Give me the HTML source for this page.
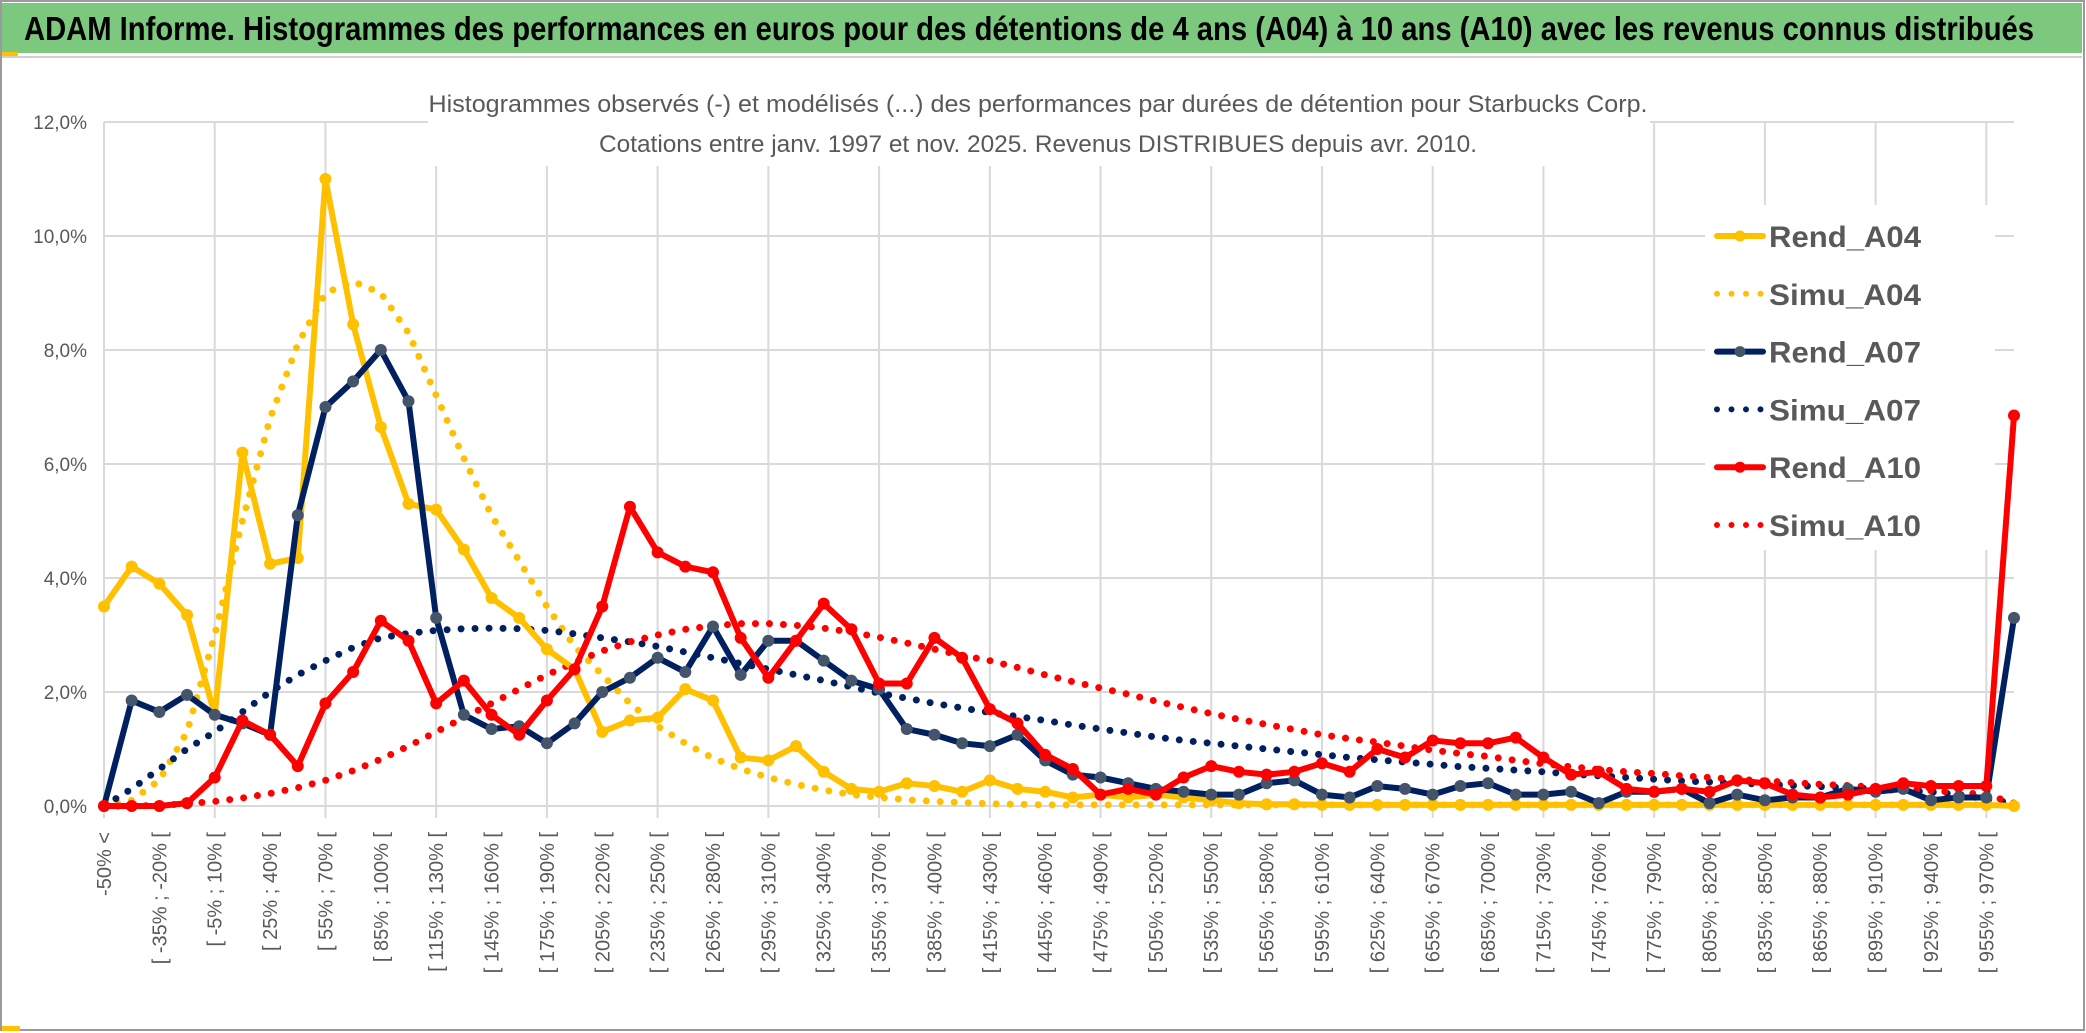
<!DOCTYPE html>
<html><head><meta charset="utf-8">
<style>
html,body{margin:0;padding:0;background:#fff;}
svg{display:block;font-family:"Liberation Sans",sans-serif;}
</style></head>
<body>
<svg id="chart" width="2086" height="1033" viewBox="0 0 2086 1033" xmlns="http://www.w3.org/2000/svg">
  <rect x="0" y="0" width="2086" height="1033" fill="#fff"/>
  <rect x="1" y="1" width="2083" height="1029" fill="none" stroke="#9a9a9a" stroke-width="2"/>
  <rect x="2" y="3" width="2080" height="50" fill="#7dc87f"/>
  <line x1="2" y1="57" x2="2082" y2="57" stroke="#d0d0d0" stroke-width="2"/>
  <rect x="2" y="52" width="16" height="4" fill="#ffc000"/>
  <rect x="2" y="1026" width="18" height="5" fill="#ffc000"/>
  <text x="24" y="40" font-size="33" font-weight="bold" fill="#000" textLength="2010" lengthAdjust="spacingAndGlyphs">ADAM Informe. Histogrammes des performances en euros pour des détentions de 4 ans (A04) à 10 ans (A10) avec les revenus connus distribués</text>
  <g id="grid"></g>
  <rect x="428" y="80" width="1222" height="86" fill="#fff"/>
  <text x="1038" y="112" font-size="24" fill="#595959" text-anchor="middle" textLength="1219" lengthAdjust="spacingAndGlyphs">Histogrammes observés (-) et modélisés (...) des performances par durées de détention pour Starbucks Corp.</text>
  <text x="1038" y="152" font-size="24" fill="#595959" text-anchor="middle" textLength="878" lengthAdjust="spacingAndGlyphs">Cotations entre janv. 1997 et nov. 2025. Revenus DISTRIBUES depuis avr. 2010.</text>
  <g id="yaxis"></g>
  <g id="xaxis"></g>
  <g id="series"></g>
  <g id="legend"></g>
</svg>
<script>
const yTicks = [0,2,4,6,8,10,12];
const yTickLabels = ["0,0%","2,0%","4,0%","6,0%","8,0%","10,0%","12,0%"];
const categories = (function(){ const c=["-50% <"]; for(let k=0;k<69;k++){c.push("[ "+(-50+15*k)+"% ; "+(-35+15*k)+"% [");} return c; })();
const rendA04 = [3.5,4.2,3.9,3.35,1.6,6.2,4.25,4.35,11.0,8.45,6.65,5.3,5.2,4.5,3.65,3.3,2.75,2.4,1.3,1.5,1.55,2.05,1.85,0.85,0.8,1.05,0.6,0.3,0.25,0.4,0.35,0.25,0.45,0.3,0.25,0.15,0.2,0.15,0.2,0.15,0.1,0.05,0.03,0.03,0.02,0.02,0.02,0.02,0.02,0.02,0.02,0.02,0.02,0.02,0.02,0.02,0.02,0.02,0.02,0.02,0.02,0.02,0.02,0.02,0.02,0.02,0.02,0.02,0.02,0.0];
const simuA04 = [0,0.1,0.45,1.3,3.0,5.0,6.8,8.1,9.0,9.2,9.0,8.3,7.2,6.1,5.1,4.3,3.5,2.8,2.3,1.8,1.4,1.1,0.84,0.65,0.5,0.38,0.28,0.2,0.15,0.11,0.08,0.06,0.04,0.03,0.02,0.02,0.02,0.02,0.02,0.02,0.02,0.02,0.02,0.02,0.02,0.02,0.02,0.02,0.02,0.02,0.02,0.02,0.02,0.02,0.02,0.02,0.02,0.02,0.02,0.02,0.02,0.02,0.02,0.02,0.02,0.02,0.02,0.02,0.02,0.02];
const rendA07 = [0,1.85,1.65,1.95,1.6,1.45,1.25,5.1,7.0,7.45,8.0,7.1,3.3,1.6,1.35,1.4,1.1,1.45,2.0,2.25,2.6,2.35,3.15,2.3,2.9,2.9,2.55,2.2,2.05,1.35,1.25,1.1,1.05,1.25,0.8,0.55,0.5,0.4,0.3,0.25,0.2,0.2,0.4,0.45,0.2,0.15,0.35,0.3,0.2,0.35,0.4,0.2,0.2,0.25,0.05,0.25,0.25,0.3,0.05,0.2,0.1,0.15,0.15,0.3,0.25,0.3,0.1,0.15,0.15,3.3];
const simuA07 = [0,0.3,0.65,1.0,1.3,1.65,2.0,2.3,2.55,2.78,2.95,3.03,3.08,3.11,3.12,3.11,3.08,3.02,2.95,2.88,2.8,2.7,2.6,2.5,2.4,2.3,2.2,2.09,1.98,1.89,1.8,1.72,1.64,1.57,1.5,1.42,1.35,1.28,1.21,1.15,1.1,1.05,1.0,0.95,0.9,0.85,0.81,0.77,0.73,0.69,0.66,0.63,0.6,0.56,0.53,0.5,0.47,0.44,0.42,0.4,0.38,0.36,0.34,0.32,0.3,0.27,0.25,0.2,0.12,0.05];
const rendA10 = [0,0,0,0.05,0.5,1.5,1.25,0.7,1.8,2.35,3.25,2.9,1.8,2.2,1.6,1.25,1.85,2.4,3.5,5.25,4.45,4.2,4.1,2.95,2.25,2.9,3.55,3.1,2.15,2.15,2.95,2.6,1.7,1.45,0.9,0.65,0.2,0.3,0.2,0.5,0.7,0.6,0.55,0.6,0.75,0.6,1.0,0.85,1.15,1.1,1.1,1.2,0.85,0.55,0.6,0.3,0.25,0.3,0.25,0.45,0.4,0.2,0.15,0.2,0.3,0.4,0.35,0.35,0.35,6.85];
const simuA10 = [0,0,0.01,0.04,0.08,0.14,0.22,0.32,0.45,0.62,0.82,1.05,1.3,1.55,1.8,2.05,2.3,2.52,2.72,2.88,3.0,3.1,3.16,3.2,3.2,3.17,3.12,3.05,2.96,2.86,2.75,2.64,2.55,2.43,2.3,2.18,2.07,1.96,1.84,1.73,1.62,1.52,1.43,1.34,1.25,1.18,1.12,1.05,0.98,0.92,0.87,0.8,0.74,0.69,0.64,0.6,0.57,0.53,0.5,0.47,0.44,0.41,0.38,0.36,0.33,0.3,0.27,0.24,0.2,0.05];

const NS="http://www.w3.org/2000/svg";
const X0=104, X1=2014, Y0=806, PX_PER_PCT=57;
function xPos(i){ return X0 + i*(X1-X0)/(categories.length-1); }
function yPos(v){ return Y0 - v*PX_PER_PCT; }
function mk(tag, attrs, parent){ const e=document.createElementNS(NS,tag); for(const k in attrs) e.setAttribute(k, attrs[k]); parent.appendChild(e); return e; }

const grid=document.getElementById('grid');
yTicks.forEach(function(t){
  const l=mk('line',{x1:X0,x2:X1,y1:yPos(t),y2:yPos(t),stroke:'#d9d9d9','stroke-width':2},grid);
  
  
});
for(let i=0;i<categories.length;i+=4){
  const l=mk('line',{x1:xPos(i),x2:xPos(i),y1:yPos(12),y2:Y0+12,stroke:'#d9d9d9','stroke-width':2},grid);
  
  
}
const ya=document.getElementById('yaxis');
yTicks.forEach(function(t,k){
  const e=mk('text',{x:87,y:yPos(t)+7,'text-anchor':'end','font-size':19,fill:'#595959'},ya);
  e.textContent=yTickLabels[k];
  
  
});
const xa=document.getElementById('xaxis');
for(let i=0;i<categories.length;i+=2){
  const x=xPos(i)+7, y=832;
  const e=mk('text',{x:x,y:y,'text-anchor':'end','font-size':20,fill:'#595959',transform:'rotate(-90 '+x+' '+y+')'},xa);
  e.textContent=categories[i];
  
  
}
const sg=document.getElementById('series');
function dotted(data,color,name){
  const pts=data.map(function(v,i){return xPos(i)+','+yPos(v);}).join(' ');
  const p=mk('polyline',{points:pts,fill:'none',stroke:color,'stroke-width':7,'stroke-linecap':'round','stroke-dasharray':'0 14'},sg);
  
  
}
function solid(data,color,mcolor,name){
  const g=mk('g',{},sg);
  
  
  const pts=data.map(function(v,i){return xPos(i)+','+yPos(v);}).join(' ');
  mk('polyline',{points:pts,fill:'none',stroke:color,'stroke-width':6,'stroke-linejoin':'round'},g);
  data.forEach(function(v,i){
    const c=mk('circle',{cx:xPos(i),cy:yPos(v),r:6,fill:mcolor},g);
    
    
  });
}
dotted(simuA04,'#ffc000','simu-a04-line');
dotted(simuA07,'#002060','simu-a07-line');
dotted(simuA10,'#ff0000','simu-a10-line');
solid(rendA04,'#ffc000','#ffc000','rend-a04-line');
solid(rendA07,'#002060','#44546a','rend-a07-line');
solid(rendA10,'#ff0000','#ff0000','rend-a10-line');

const lg=document.getElementById('legend');
mk('rect',{x:1705,y:205,width:290,height:345,fill:'#fff'},lg);
const legendNames=["Rend_A04","Simu_A04","Rend_A07","Simu_A07","Rend_A10","Simu_A10"];
const legendColors=['#ffc000','#ffc000','#002060','#002060','#ff0000','#ff0000'];
const legendMarker=['#ffc000',null,'#44546a',null,'#ff0000',null];
legendNames.forEach(function(n,k){
  const y=236+k*57.8;
  const g=mk('g',{},lg);
  
  
  if(legendMarker[k]){
    mk('line',{x1:1717,x2:1763,y1:y,y2:y,stroke:legendColors[k],'stroke-width':6,'stroke-linecap':'round'},g);
    mk('circle',{cx:1740,cy:y,r:5.5,fill:legendMarker[k]},g);
  } else {
    mk('line',{x1:1717,x2:1763,y1:y,y2:y,stroke:legendColors[k],'stroke-width':6,'stroke-linecap':'round','stroke-dasharray':'0 14.5'},g);
  }
  const t=mk('text',{x:1769,y:y+11,'font-size':30,'font-weight':'bold',fill:'#595959',textLength:152,lengthAdjust:'spacingAndGlyphs'},g);
  t.textContent=n;
});
</script>
</body></html>
